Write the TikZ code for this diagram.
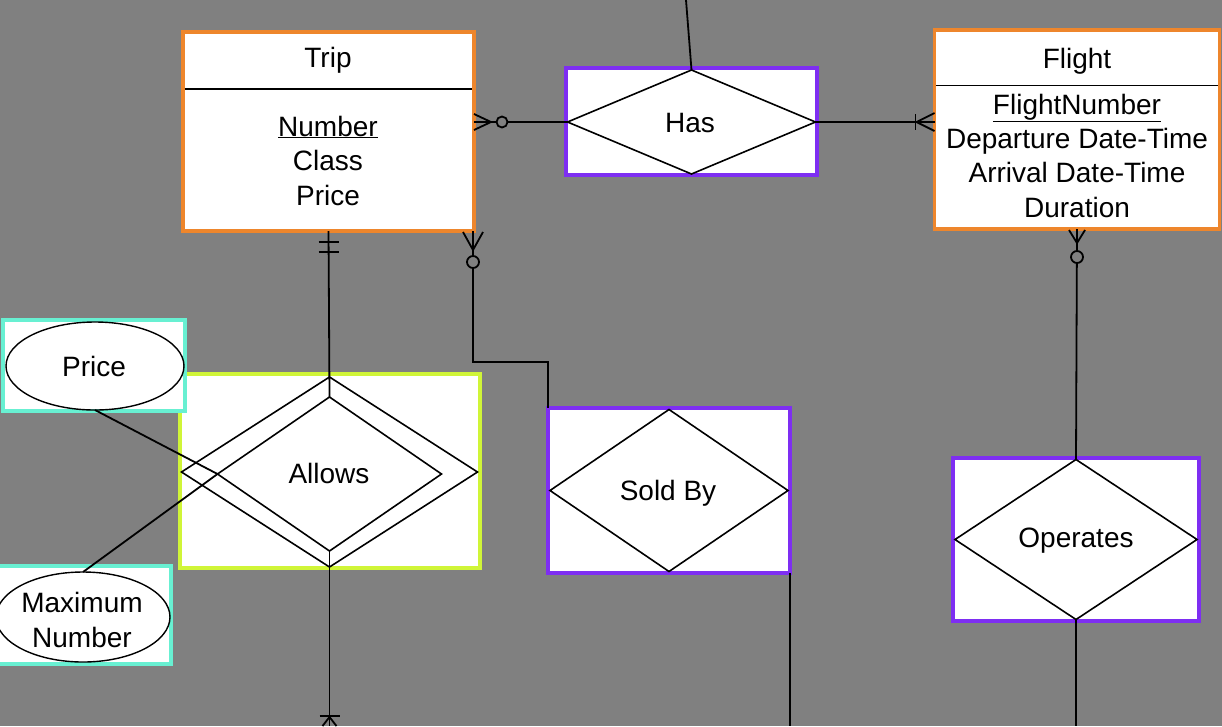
\documentclass[tikz,border=0pt]{standalone}
\usepackage{fontspec}
\setmainfont{Liberation Sans}
\usetikzlibrary{shapes.geometric,calc}
\definecolor{bg}{RGB}{128,128,128}
\definecolor{ent}{RGB}{238,134,44}
\definecolor{rel}{RGB}{126,46,242}
\definecolor{wk}{RGB}{208,245,56}
\definecolor{att}{RGB}{104,240,210}
\begin{document}
\begin{tikzpicture}[x=1pt,y=-1pt,
  box/.style={draw, line width=3.2pt, fill=white, inner sep=0pt, outer sep=0pt, rectangle},
  entbox/.style={box, draw=ent},
  relbox/.style={box, draw=rel},
  wkbox/.style={box, draw=wk},
  attbox/.style={box, draw=att},
  dia/.style={diamond, draw=black, line width=1.6pt, inner sep=0pt, outer sep=0pt, aspect=1},
  ell/.style={ellipse, draw=black, line width=1.4pt, inner sep=0pt, outer sep=0pt},
  lbl/.style={anchor=base, inner sep=0pt, font=\fontsize{28}{33}\selectfont},
  conn/.style={line width=1.8pt, draw=black},
  hdr/.style={line width=1.6pt, draw=black, shorten >=1.6pt, shorten <=1.6pt},
  opt/.style={conn, fill=bg},
]
\fill[bg] (0,0) rectangle (1222,726);
\useasboundingbox (0,0) rectangle (1222,726);
\coordinate (bot) at (0,726);
\coordinate (top) at (686,0);

% Trip
\node[entbox, minimum width=291pt, minimum height=199pt] (trip) at (328.5,131.5) {};
\draw[hdr] ([yshift=-57pt]trip.north west) -- ([yshift=-57pt]trip.north east);
\node[lbl] (triptitle) at (328,67) {Trip};
\node[lbl] (tripa1) at (328,136) {\underline{Number}};
\node[lbl] (tripa2) at (328,170.5) {Class};
\node[lbl] (tripa3) at (328,205) {Price};

% Flight
\node[entbox, minimum width=285pt, minimum height=199pt] (flight) at (1077,129.5) {};
\draw[hdr] ([yshift=-55.5pt]flight.north west) -- ([yshift=-55.5pt]flight.north east);
\node[lbl] (flighttitle) at (1077,68) {Flight};
\node[lbl] (flighta1) at (1077,114) {\underline{FlightNumber}};
\node[lbl] (flighta2) at (1077,148) {Departure Date-Time};
\node[lbl] (flighta3) at (1077,182.5) {Arrival Date-Time};
\node[lbl] (flighta4) at (1077,217) {Duration};

% Has
\node[relbox, minimum width=251pt, minimum height=107pt] (hasbox) at (691.5,121.5) {};
\node[dia, minimum width=248pt, minimum height=104pt] (has) at (691.5,122) {};
\node[lbl] (haslbl) at (690,132) {Has};

% Sold By
\node[relbox, minimum width=242pt, minimum height=165pt] (soldbox) at (669,490.5) {};
\node[dia, minimum width=238pt, minimum height=162pt] (sold) at (669,490.5) {};
\node[lbl] (soldlbl) at (668,500) {Sold By};

% Operates
\node[relbox, minimum width=246pt, minimum height=163pt] (operbox) at (1076,539.5) {};
\node[dia, minimum width=242pt, minimum height=160pt] (oper) at (1076,539.5) {};
\node[lbl] (operlbl) at (1076,547) {Operates};

% Allows
\node[wkbox, minimum width=300pt, minimum height=194pt] (allowsbox) at (330,471) {};
\node[dia, minimum width=296pt, minimum height=190pt] (allowsout) at (329.5,472) {};
\node[dia, minimum width=224pt, minimum height=154pt] (allowsin) at (329.5,474) {};
\node[lbl] (allowslbl) at (329,483) {Allows};

% Price attribute
\node[attbox, minimum width=182pt, minimum height=91pt] (pricebox) at (94,365.5) {};
\node[ell, minimum width=178pt, minimum height=88pt] (price) at (95,366) {};
\node[lbl] (pricelbl) at (94,376) {Price};

% Maximum Number attribute
\node[attbox, minimum width=174pt, minimum height=98pt] (maxbox) at (84,615) {};
\node[ell, minimum width=174pt, minimum height=90pt] (maxnum) at (83,617) {};
\node[lbl] (maxlbl1) at (82,612) {Maximum};
\node[lbl] (maxlbl2) at (82,647) {Number};

% Trip -- Has (zero or many at Trip)
\coordinate (th) at (has.west -| trip.east);
\draw[conn] (th) -- (has.west);
\draw[conn] ($(th)+(0,-8)$) -- ($(th)+(17,0)$) -- ($(th)+(0,8)$);
\draw[opt] ($(th)+(28,0)$) circle (5.5pt);

% Has -- Flight (one or many at Flight)
\coordinate (hf) at (has.east -| flight.west);
\draw[conn] (has.east) -- (hf);
\draw[conn] ($(hf)+(-19,-8)$) -- ($(hf)+(-19,8)$);
\draw[conn] ($(hf)+(0,-9)$) -- ($(hf)+(-18,0)$) -- ($(hf)+(0,9)$);

% Has -- up
\draw[conn] (has.north) -- (top);

% Trip -- Allows (one and only one at Trip)
\draw[conn] (trip.south) -- (allowsin.north);
\draw[conn] ($(trip.south)+(-10,11)$) -- ($(trip.south)+(10,11)$);
\draw[conn] ($(trip.south)+(-10,21)$) -- ($(trip.south)+(10,21)$);

% Allows -- down (one or many)
\coordinate (ab) at (allowsin.south |- bot);
\draw[conn] (allowsin.south) -- (ab);
\draw[conn] ($(ab)+(-10,-10)$) -- ($(ab)+(10,-10)$);
\draw[conn] ($(ab)+(-7,0)$) -- ($(ab)+(0,-9)$) -- ($(ab)+(7,0)$);

% Trip -- Sold By (zero or many at Trip)
\coordinate (tr) at ([xshift=-1pt]trip.south east);
\coordinate (sb) at ($(soldbox.north west)+(0,-46)$);
\draw[conn] (tr) -- (tr |- sb) -- (sb) -- (soldbox.north west);
\draw[conn] ($(tr)+(-10,1)$) -- ($(tr)+(0,19)$) -- ($(tr)+(10,1)$);
\draw[opt] ($(tr)+(0,31)$) circle (6pt);

% Sold By -- down
\draw[conn] (soldbox.south east) -- (soldbox.south east |- bot);

% Flight -- Operates (zero or many at Flight)
\draw[conn] (flight.south) -- (oper.north);
\draw[conn] ($(flight.south)+(-8,1)$) -- ($(flight.south)+(0,14)$) -- ($(flight.south)+(8,1)$);
\draw[opt] ($(flight.south)+(0,28)$) circle (6pt);

% Operates -- down
\draw[conn] (oper.south) -- (oper.south |- bot);

% Attributes -- Allows
\draw[conn] (price.south) -- (allowsin.west);
\draw[conn] (maxnum.north) -- (allowsin.west);
\end{tikzpicture}
\end{document}
